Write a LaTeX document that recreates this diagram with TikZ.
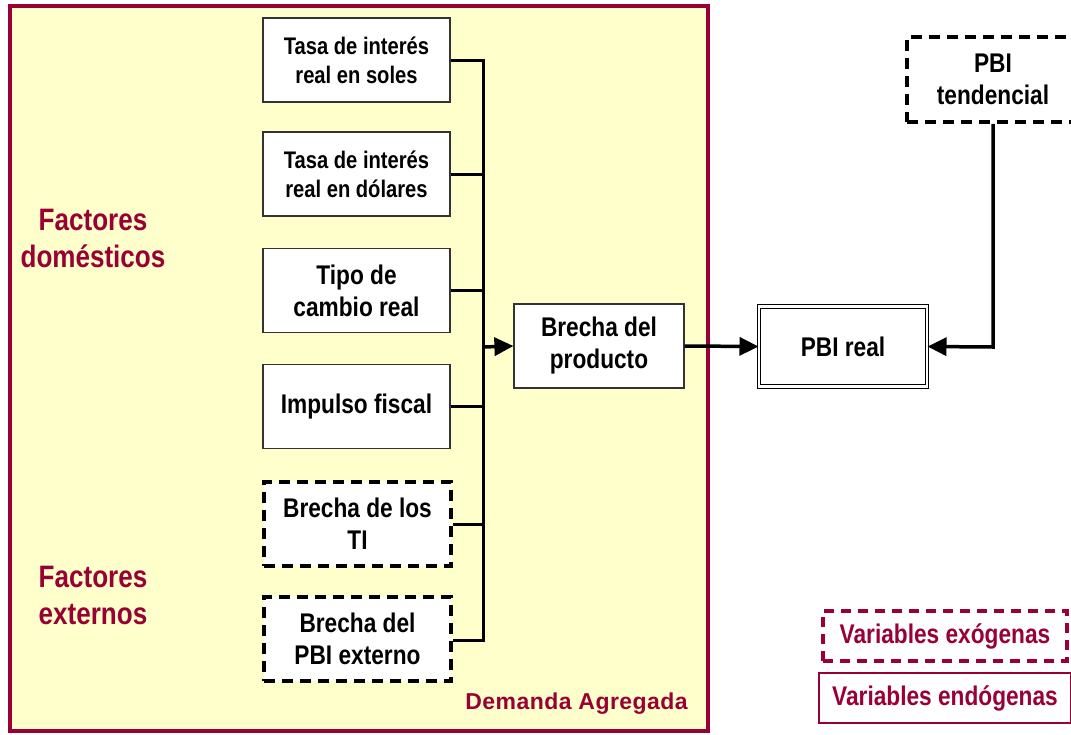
\documentclass[tikz,border=0pt]{standalone}
\usepackage{fontspec}
\setmainfont{Liberation Sans}[FakeStretch=0.84]
\newfontfamily\widefont{Liberation Sans}[LetterSpace=2]
\usetikzlibrary{arrows.meta}
\definecolor{crim}{HTML}{990033}
\definecolor{paleyel}{HTML}{FFFFCC}
\tikzset{
  box/.style={draw=black!80, line width=1.2pt, fill=white, minimum width=187pt, minimum height=84pt, align=center, font=\bfseries\fontsize{27}{32}\selectfont, inner sep=0pt},
  smallbox/.style={box, font=\bfseries\fontsize{24}{29}\selectfont},
  dbox/.style={box, draw=black, line width=3.5pt, dash pattern=on 11pt off 7pt},
  bus/.style={line width=3pt, black},
  arr/.style={line width=3.5pt, -{Triangle[length=19pt,width=18pt]}},
  side/.style={text=crim, align=center, font=\bfseries\fontsize{31}{37}\selectfont},
  leg/.style={text=crim, font=\bfseries\fontsize{27}{32}\selectfont, inner sep=0pt, minimum height=50pt}
}
\begin{document}
\begin{tikzpicture}[x=1pt,y=-1pt]
\useasboundingbox (0,0) rectangle (1071,734);
% Demanda Agregada area
\node[draw=crim, line width=4pt, fill=paleyel, minimum width=698pt, minimum height=725pt, inner sep=0pt] (da) at (359,368.5) {};
\node[text=crim, font=\widefont\bfseries\fontsize{23}{26}\selectfont, anchor=east, inner sep=0pt] (dalab) at (688,704) {Demanda Agregada};
% side labels
\node[side] (fd) at (93,238) {Factores\\domésticos};
\node[side] (fe) at (93,595) {Factores\\externos};
% input boxes
\node[smallbox] (b1) at (356.5,60) {Tasa de interés\\real en soles};
\node[smallbox] (b2) at (356.5,174) {Tasa de interés\\real en dólares};
\node[box] (b3) at (356.5,290.5) {Tipo de\\cambio real};
\node[box] (b4) at (356.5,406.5) {Impulso fiscal};
\node[dbox] (b5) at (357.5,524) {Brecha de los\\TI};
\node[dbox] (b6) at (357.5,639) {Brecha del\\PBI externo};
% bus
\coordinate (top) at (483,60);
\coordinate (bot) at (483,640);
\coordinate (mid) at (483,347);
\draw[bus] (b1.east) -- (top) -- (bot) -- (b6.east |- bot);
\draw[bus] (b2.east) -- (b2.east -| top);
\draw[bus] (b3.east) -- (b3.east -| top);
\draw[bus] (b4.east) -- (b4.east -| top);
\draw[bus] (b5.east) -- (b5.east -| top);
% output boxes
\node[box, minimum width=170pt, minimum height=84pt] (bp) at (599,346) {Brecha del\\producto};
\node[box, draw=black, line width=1pt, double, double distance=2.5pt, minimum width=168pt, minimum height=80pt] (pr) at (843,346.5) {PBI real};
\node[dbox, minimum width=172pt, minimum height=85pt] (pt) at (993,79.5) {PBI\\tendencial};
\draw[arr] (mid) -- (bp.west);
\draw[arr] (bp.east) -- (pr.west);
\coordinate (corner) at (993,347);
\draw[arr] (pt.south) -- (corner) -- (pr.east);
% legend
\node[leg, draw=crim, line width=3.5pt, dash pattern=on 10pt off 7pt, minimum width=244pt] (lx) at (945,636) {Variables exógenas};
\node[leg, draw=crim, line width=2pt, minimum width=252pt] (ln) at (945,698) {Variables endógenas};
\end{tikzpicture}
\end{document}
